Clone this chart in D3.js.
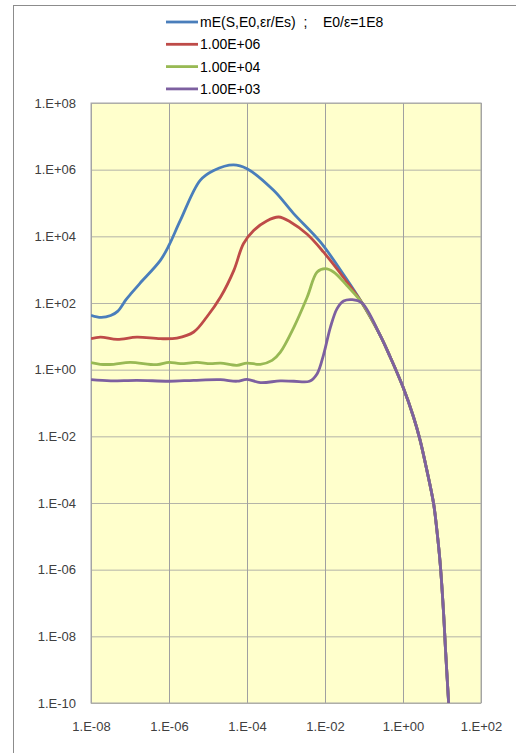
<!DOCTYPE html>
<html>
<head>
<meta charset="utf-8">
<script src="https://cdn.jsdelivr.net/npm/d3@7"></script>
<style>
  body { margin: 0; background: #fff; }
  text { font-family: "Liberation Sans", Arial, sans-serif; }
</style>
</head>
<body>
<div id="chart"></div>
<script>
// tick values (decades shown on each axis)
const xTicks = [1e-8, 1e-6, 1e-4, 1e-2, 1e0, 1e2];
const yTicks = [1e-10, 1e-8, 1e-6, 1e-4, 1e-2, 1e0, 1e2, 1e4, 1e6, 1e8];

const legendLabels = ['mE(S,E0,\u03b5r/Es)  ;    E0/\u03b5=1E8', '1.00E+06', '1.00E+04', '1.00E+03'];
const seriesColors = ['#4a7ebb', '#be4b48', '#98b954', '#7d60a0'];

// shared steep tail once all curves have merged
const tail = [
  [8.9e-2, 100], [0.26, 10.7], [0.47, 2.4], [1, 0.3], [1.86, 0.038], [2.75, 7.6e-3],
  [4.1, 9.5e-4], [6.1, 9.5e-5], [7.4, 1.5e-5], [9.0, 1.5e-6], [11, 4.8e-8],
  [12.2, 4.8e-9], [14.8, 1e-10]
];

const blue = [
  [1e-8, 43], [1.8e-8, 37], [3.2e-8, 42], [4.8e-8, 56], [7.9e-8, 126], [1.1e-7, 200],
  [1.8e-7, 390], [6e-7, 1900], [1e-6, 5400], [1.95e-6, 30000], [6.3e-6, 4.8e5],
  [1.4e-5, 9.5e5], [4.5e-5, 1.4e6], [1e-4, 1.07e6], [4.8e-4, 2.4e5], [1.55e-3, 49000],
  [7.6e-3, 6800], [3.2e-2, 630]
];

const red = [
  [1e-8, 8.5], [1.74e-8, 9.5], [4.7e-8, 8.1], [1.5e-7, 9.5], [6e-7, 8.5], [1.6e-6, 8.9],
  [4.3e-6, 13.5], [9.3e-6, 38], [2.1e-5, 151], [4.6e-5, 955], [8.1e-5, 6000],
  [1.48e-4, 15000], [3.2e-4, 29000], [6.5e-4, 38000], [1.3e-3, 27000], [3.5e-3, 11500],
  [9.1e-3, 3400], [3.2e-2, 525]
];

const green = [
  [1e-8, 1.62], [1.74e-8, 1.45], [3.8e-8, 1.45], [1e-7, 1.66], [4.9e-7, 1.41], [1e-6, 1.66],
  [1.95e-6, 1.51], [5.2e-6, 1.66], [1.15e-5, 1.51], [2.1e-5, 1.58], [5.5e-5, 1.35],
  [1e-4, 1.58], [2.2e-4, 1.45], [4.4e-4, 1.9], [7.1e-4, 3.3], [1.6e-3, 19], [3.5e-3, 151],
  [6.3e-3, 850], [1.02e-2, 1070], [1.66e-2, 850], [3.6e-2, 340]
];

const purple = [
  [1e-8, 0.5], [3.2e-8, 0.46], [1.5e-7, 0.48], [1e-6, 0.45], [4.3e-6, 0.48], [2.1e-5, 0.5],
  [5.5e-5, 0.45], [1e-4, 0.51], [2.2e-4, 0.41], [7.1e-4, 0.46], [1.6e-3, 0.45], [4e-3, 0.45],
  [6.3e-3, 0.76], [9.1e-3, 2.7], [1.38e-2, 19], [2.04e-2, 68], [3e-2, 115], [5e-2, 126]
];

const series = [blue, red, green, purple].map(s => s.concat(tail));

const width = 516, height = 753;
const plot = { left: 91, right: 481, top: 103, bottom: 703 };

const svg = d3.select('#chart').append('svg')
  .attr('width', width)
  .attr('height', height);

// outer chart frame (runs off the window on the right and bottom)
svg.append('rect')
  .attr('x', 13.5).attr('y', 5.5)
  .attr('width', 700).attr('height', 900)
  .attr('fill', '#fff')
  .attr('stroke', '#8c8c8c');

const x = d3.scaleLog().domain([1e-8, 1e2]).range([plot.left, plot.right]);
const y = d3.scaleLog().domain([1e-10, 1e8]).range([plot.bottom, plot.top]);

svg.append('rect')
  .attr('x', plot.left).attr('y', plot.top)
  .attr('width', plot.right - plot.left).attr('height', plot.bottom - plot.top)
  .attr('fill', '#ffffcc');

const fmt = v => {
  const e = Math.round(Math.log10(v));
  return '1.E' + (e < 0 ? '-' : '+') + String(Math.abs(e)).padStart(2, '0');
};

// horizontal gridlines + y labels
const yAxis = svg.append('g')
  .attr('transform', `translate(${plot.left},0)`)
  .call(d3.axisLeft(y).tickValues(yTicks).tickFormat(fmt).tickSize(-(plot.right - plot.left)).tickPadding(15));
yAxis.select('.domain').remove();
yAxis.selectAll('line').attr('stroke', '#b4b4a8').attr('stroke-width', 1);
yAxis.selectAll('text').attr('fill', '#404040').style('font-size', '13px');

// vertical gridlines + x labels
const xAxis = svg.append('g')
  .attr('transform', `translate(0,${plot.bottom})`)
  .call(d3.axisBottom(x).tickValues(xTicks).tickFormat(fmt).tickSize(-(plot.bottom - plot.top)).tickPadding(19));
xAxis.select('.domain').remove();
xAxis.selectAll('line').attr('stroke', '#a0a0a0').attr('stroke-width', 1);
xAxis.selectAll('text').attr('fill', '#404040').style('font-size', '13px');

svg.append('rect')
  .attr('x', plot.left).attr('y', plot.top)
  .attr('width', plot.right - plot.left).attr('height', plot.bottom - plot.top)
  .attr('fill', 'none')
  .attr('stroke', '#a8a8a8');

svg.append('clipPath').attr('id', 'clip')
  .append('rect')
  .attr('x', plot.left).attr('y', plot.top - 2)
  .attr('width', plot.right - plot.left).attr('height', plot.bottom - plot.top + 4);

const line = d3.line()
  .x(d => x(d[0]))
  .y(d => y(d[1]))
  .curve(d3.curveCatmullRom.alpha(0.5));

series.forEach((s, i) => {
  svg.append('path')
    .datum(s)
    .attr('clip-path', 'url(#clip)')
    .attr('fill', 'none')
    .attr('stroke', seriesColors[i])
    .attr('stroke-width', 2.8)
    .attr('stroke-linejoin', 'round')
    .attr('d', line);
});

// legend
const legend = svg.append('g').attr('transform', 'translate(166,22)');
legendLabels.forEach((label, i) => {
  const row = legend.append('g').attr('transform', `translate(0,${i * 22.3})`);
  row.append('line')
    .attr('x1', 0).attr('x2', 32)
    .attr('stroke', seriesColors[i])
    .attr('stroke-width', 2.8);
  row.append('text')
    .attr('x', 34)
    .attr('dy', '0.35em')
    .attr('fill', '#000')
    .style('font-size', '14px')
    .style('white-space', 'pre')
    .text(label);
});
</script>
</body>
</html>
